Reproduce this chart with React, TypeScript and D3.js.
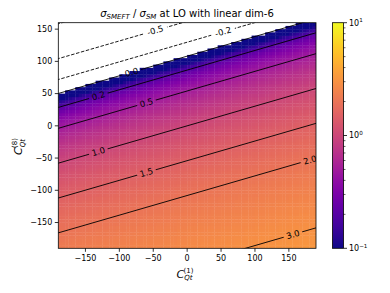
import React from 'react';
import * as d3 from 'd3';

const W = 390;
const H = 293;
const plot = { left: 58.3, right: 316, top: 22.7, bottom: 248.3 };
const cbar = { left: 332.5, right: 343.5 };

// scan range and the linear dim-6 coefficients
const c1Domain = [-190, 190];
const c8Domain = [-190, 160];
const cellSize = 5;
const slopeC1 = 0.00282;
const slopeC8 = -0.00925;

const contourLevels = [-1.0, -0.5, -0.2, 0.0, 0.2, 0.5, 1.0, 1.5, 2.0, 3.0];
const labelLevels = [-0.5, -0.2, 0.0, 0.2, 0.5, 1.0, 1.5, 2.0, 3.0];
const labelAtC1 = [-47, 53, -82, -131, -60, -131, -60, 181, 156];

const xTicks = [-150, -100, -50, 0, 50, 100, 150];
const yTicks = [-150, -100, -50, 0, 50, 100, 150];
const cbarMajor = [0.1, 1, 10];
const cbarExp = ['−1', '0', '1'];

const FONT = 'DejaVu Sans, sans-serif';

const ratio = (c1: number, c8: number) => 1 + slopeC1 * c1 + slopeC8 * c8;
const levelC8 = (lvl: number, c1: number) => (lvl - 1 - slopeC1 * c1) / slopeC8;

const App = () => {
  const x = d3.scaleLinear().domain(c1Domain).range([plot.left, plot.right]);
  const y = d3.scaleLinear().domain(c8Domain).range([plot.bottom, plot.top]);
  const color = d3
    .scaleSequentialLog(d3.interpolatePlasma)
    .domain([0.1, 10])
    .clamp(true);
  const cy = d3.scaleLog().domain([0.1, 10]).range([plot.bottom, plot.top]);

  // pcolormesh cells, values <= 0 are masked (white)
  const cells: any[] = [];
  d3.range(c1Domain[0], c1Domain[1], cellSize).forEach(c1 => {
    d3.range(c8Domain[0], c8Domain[1], cellSize).forEach(c8 => {
      const v = ratio(c1 + cellSize / 2, c8 + cellSize / 2);
      if (v <= 0) return;
      cells.push({ c1, c8, v });
    });
  });

  const fmt = d3.format('');

  const labels = labelLevels.map((lvl, i) => {
    const c1 = labelAtC1[i];
    const px = x(c1);
    const py = y(levelC8(lvl, c1));
    const ang =
      (Math.atan2(y(levelC8(lvl, c1 + 10)) - py, x(c1 + 10) - px) * 180) /
      Math.PI;
    const txt = lvl.toFixed(1);
    return { px, py, ang, txt, w: txt.length * 5.1 + 4 };
  });

  const minorTicks: number[] = [];
  [0.1, 1].forEach(base => {
    for (let k = 2; k <= 9; k++) minorTicks.push(base * k);
  });

  const gradStops = d3.range(0, 1.0001, 0.05);

  return (
    <svg
      width={W}
      height={H}
      style={{ position: 'absolute', left: 0, top: 0, background: '#fff' }}
      fontFamily={FONT}
    >
      <defs>
        <clipPath id='plotClip'>
          <rect
            x={plot.left}
            y={plot.top}
            width={plot.right - plot.left}
            height={plot.bottom - plot.top}
          />
        </clipPath>
        <mask id='labelGap'>
          <rect x={0} y={0} width={W} height={H} fill='#fff' />
          {labels.map((l, i) => (
            <rect
              key={i}
              x={-l.w / 2}
              y={-4}
              width={l.w}
              height={8}
              fill='#000'
              transform={`translate(${l.px},${l.py}) rotate(${l.ang})`}
            />
          ))}
        </mask>
        <linearGradient id='cbarGrad' x1='0' y1='1' x2='0' y2='0'>
          {gradStops.map(t => (
            <stop key={t} offset={t} stopColor={d3.interpolatePlasma(t)} />
          ))}
        </linearGradient>
      </defs>

      {/* heatmap */}
      <g clipPath='url(#plotClip)'>
        {cells.map((d, i) => (
          <rect
            key={i}
            x={x(d.c1)}
            y={y(d.c8 + cellSize)}
            width={x(d.c1 + cellSize) - x(d.c1) + 0.35}
            height={y(d.c8) - y(d.c8 + cellSize) + 0.35}
            fill={color(d.v)}
          />
        ))}
      </g>

      {/* contour lines */}
      <g clipPath='url(#plotClip)'>
        <g mask='url(#labelGap)'>
          {contourLevels.map(lvl => (
            <line
              key={lvl}
              x1={x(-200)}
              y1={y(levelC8(lvl, -200))}
              x2={x(200)}
              y2={y(levelC8(lvl, 200))}
              stroke='#000'
              strokeWidth={0.9}
              strokeDasharray={lvl < 0 ? '3.5,1.6' : undefined}
            />
          ))}
        </g>
        {labels.map((l, i) => (
          <text
            key={i}
            transform={`translate(${l.px},${l.py}) rotate(${l.ang})`}
            textAnchor='middle'
            dy='0.35em'
            fontSize={8.5}
            fill='#000'
          >
            {l.txt}
          </text>
        ))}
      </g>

      {/* frame */}
      <rect
        x={plot.left}
        y={plot.top}
        width={plot.right - plot.left}
        height={plot.bottom - plot.top}
        fill='none'
        stroke='#000'
        strokeWidth={0.8}
      />

      {/* x axis */}
      {xTicks.map(t => (
        <g key={t} transform={`translate(${x(t)},${plot.bottom})`}>
          <line y2={3.5} stroke='#000' strokeWidth={0.8} />
          <text y={13} textAnchor='middle' fontSize={8}>
            {fmt(t)}
          </text>
        </g>
      ))}
      {/* y axis */}
      {yTicks.map(t => (
        <g key={t} transform={`translate(${plot.left},${y(t)})`}>
          <line x2={-3.5} stroke='#000' strokeWidth={0.8} />
          <text x={-6} dy='0.35em' textAnchor='end' fontSize={8}>
            {fmt(t)}
          </text>
        </g>
      ))}

      {/* axis labels */}
      <text x={176.5} y={277.5} fontSize={11}>
        <tspan fontStyle='italic'>C</tspan>
        <tspan fontSize={7} fontStyle='italic' dy={2.5}>
          Qt
        </tspan>
      </text>
      <text x={183.5} y={272.5} fontSize={7}>
        (1)
      </text>
      <g transform='translate(22,146) rotate(-90)'>
        <text x={-9} y={0} fontSize={11}>
          <tspan fontStyle='italic'>C</tspan>
          <tspan fontSize={7} fontStyle='italic' dy={2.5}>
            Qt
          </tspan>
        </text>
        <text x={-2} y={-5} fontSize={7}>
          (8)
        </text>
      </g>

      {/* title */}
      <text x={187} y={17} textAnchor='middle' fontSize={10}>
        <tspan fontStyle='italic'>σ</tspan>
        <tspan fontStyle='italic' fontSize={7} dy={1.8}>
          SMEFT
        </tspan>
        <tspan dy={-1.8}> / </tspan>
        <tspan fontStyle='italic'>σ</tspan>
        <tspan fontStyle='italic' fontSize={7} dy={1.8}>
          SM
        </tspan>
        <tspan dy={-1.8}> at LO with linear dim-6</tspan>
      </text>

      {/* colorbar */}
      <rect
        x={cbar.left}
        y={plot.top}
        width={cbar.right - cbar.left}
        height={plot.bottom - plot.top}
        fill='url(#cbarGrad)'
        stroke='#000'
        strokeWidth={0.8}
      />
      {cbarMajor.map((t, i) => (
        <g key={t} transform={`translate(${cbar.right},${cy(t)})`}>
          <line x2={3.5} stroke='#000' strokeWidth={0.8} />
          <text x={5.5} dy='0.35em' fontSize={8}>
            10
            <tspan fontSize={5.6} dy={-3.5}>
              {cbarExp[i]}
            </tspan>
          </text>
        </g>
      ))}
      {minorTicks.map(t => (
        <line
          key={t}
          x1={cbar.right}
          x2={cbar.right + 2}
          y1={cy(t)}
          y2={cy(t)}
          stroke='#000'
          strokeWidth={0.6}
        />
      ))}
    </svg>
  );
};

export default App;
